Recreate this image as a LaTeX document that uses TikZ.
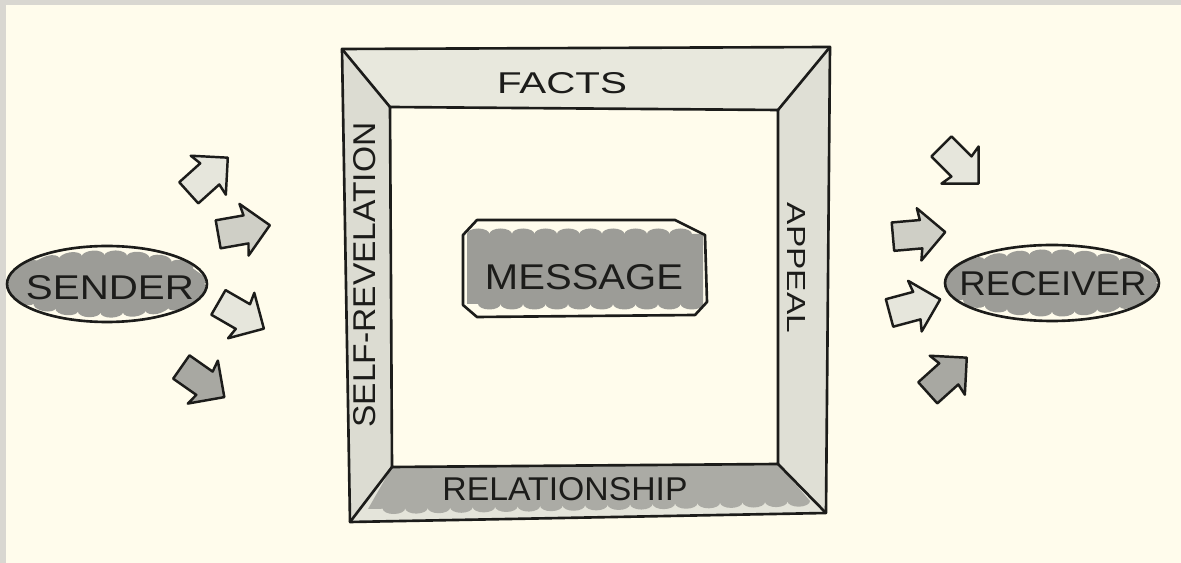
\documentclass[tikz,border=0pt]{standalone}
\usepackage{fontspec}
\setmainfont{Liberation Sans}
\usetikzlibrary{shapes.arrows,shapes.geometric,decorations.pathmorphing}
\definecolor{bg}{HTML}{FFFCEC}
\definecolor{edge}{HTML}{D9D7D1}
\definecolor{ink}{HTML}{1C1C1A}
\definecolor{topband}{HTML}{E8E8DD}
\definecolor{leftband}{HTML}{DCDCD2}
\definecolor{rightband}{HTML}{DFDFD5}
\definecolor{botlight}{HTML}{E4E4DA}
\definecolor{botband}{HTML}{ABABA5}
\definecolor{blob}{HTML}{9C9C97}
\definecolor{arrlight}{HTML}{E6E6DC}
\definecolor{arrmid}{HTML}{CFCFC6}
\definecolor{arrdark}{HTML}{A8A8A2}
\newdimen\hpx \hpx=0.02cm
\newcommand\hand[3]{\resizebox{#1\hpx}{#2\hpx}{#3}}
\tikzset{
  ink line/.style={draw=ink, line width=1.5pt, line join=round, line cap=round},
  lbl/.style={inner sep=0pt, text=ink},
  blk/.style={single arrow, ink line, line width=1.4pt, inner xsep=0pt, inner ysep=0.26cm,
    minimum height=1.05cm, single arrow head extend=0.24cm, single arrow head indent=0.04cm},
  scallop/.style={decorate, decoration={bumps, segment length=0.9cm, amplitude=0.11cm}},
  ell/.style={ellipse, ink line, inner sep=0pt}
}
\begin{document}
\begin{tikzpicture}[x=0.02cm, y=-0.02cm]
\fill[edge] (0,0) rectangle (1181,563);
\fill[bg] (6,5) rectangle (1181,563);
\useasboundingbox (0,0) rectangle (1181,563);

% frame corners
\coordinate (O1) at (342,49);
\coordinate (O2) at (830,47);
\coordinate (O3) at (826,513);
\coordinate (O4) at (350,522);
\coordinate (I1) at (390,107);
\coordinate (I2) at (778,110);
\coordinate (I3) at (778,464);
\coordinate (I4) at (392,467);

% band fills
\fill[topband] (O1)--(O2)--(I2)--(I1)--cycle;
\fill[leftband] (O1)--(I1)--(I4)--(O4)--cycle;
\fill[rightband] (O2)--(O3)--(I3)--(I2)--cycle;
\fill[botlight] (I4)--(I3)--(O3)--(O4)--cycle;
\fill[botband] (I4)--(I3)--(810,501) decorate[scallop]{-- (368,509)} --cycle;

% frame lines
\draw[ink line] (O1)--(O2)--(O3)--(O4)--cycle;
\draw[ink line] (I1)--(I2)--(I3)--(I4)--cycle;
\draw[ink line] (O1)--(I1);
\draw[ink line] (O2)--(I2);
\draw[ink line] (O3)--(I3);
\draw[ink line] (O4)--(I4);

% side labels
\node[lbl] (facts) at (562,83) {\hand{130}{21}{FACTS}};
\node[lbl, rotate=90] (self) at (365,275) {\hand{305}{22}{SELF-REVELATION}};
\node[lbl, rotate=-90] (appeal) at (796,268) {\hand{130}{18}{APPEAL}};
\node[lbl] (rel) at (565,489) {\hand{245}{23}{RELATIONSHIP}};

% message
\fill[blob] (467,234) decorate[scallop]{-- (703,234)} -- (703,304) decorate[scallop]{-- (467,304)} -- cycle;
\draw[ink line] (477,220) -- (675,220) -- (705,235) -- (707,302) -- (695,315) -- (477,317) -- (463,305) -- (463,235) -- cycle;
\node[lbl] (msg) at (584,277) {\hand{198}{25}{MESSAGE}};

% sender
\begin{scope}
\clip (107,284) ellipse [x radius=99, y radius=37];
\fill[blob, scallop] (107,284) ellipse [x radius=97, y radius=28];
\end{scope}
\node[ell, minimum width=4cm, minimum height=1.52cm] (sender) at (107,284) {};
\node[lbl] (sendertext) at (110,288) {\hand{168}{24}{SENDER}};

% receiver
\begin{scope}
\clip (1052,283) ellipse [x radius=106, y radius=37];
\fill[blob, scallop] (1052,283) ellipse [x radius=104, y radius=28];
\end{scope}
\node[ell, minimum width=4.28cm, minimum height=1.52cm] (receiver) at (1052,283) {};
\node[lbl] (receivertext) at (1053,284) {\hand{187}{24}{RECEIVER}};

% sender arrows
\node[blk, fill=arrlight, rotate=42] (a1) at (203,180) {};
\node[blk, fill=arrmid, rotate=10] (a2) at (237,231) {};
\node[blk, fill=arrlight, rotate=-30] (a3) at (235,312) {};
\node[blk, fill=arrdark, rotate=-35] (a4) at (197,378) {};

% receiver arrows
\node[blk, fill=arrlight, rotate=-45] (b1) at (955,160) {};
\node[blk, fill=arrmid, rotate=5] (b2) at (912,235) {};
\node[blk, fill=arrlight, rotate=15] (b3) at (908,308) {};
\node[blk, fill=arrdark, rotate=42] (b4) at (942,380) {};
\end{tikzpicture}
\end{document}
